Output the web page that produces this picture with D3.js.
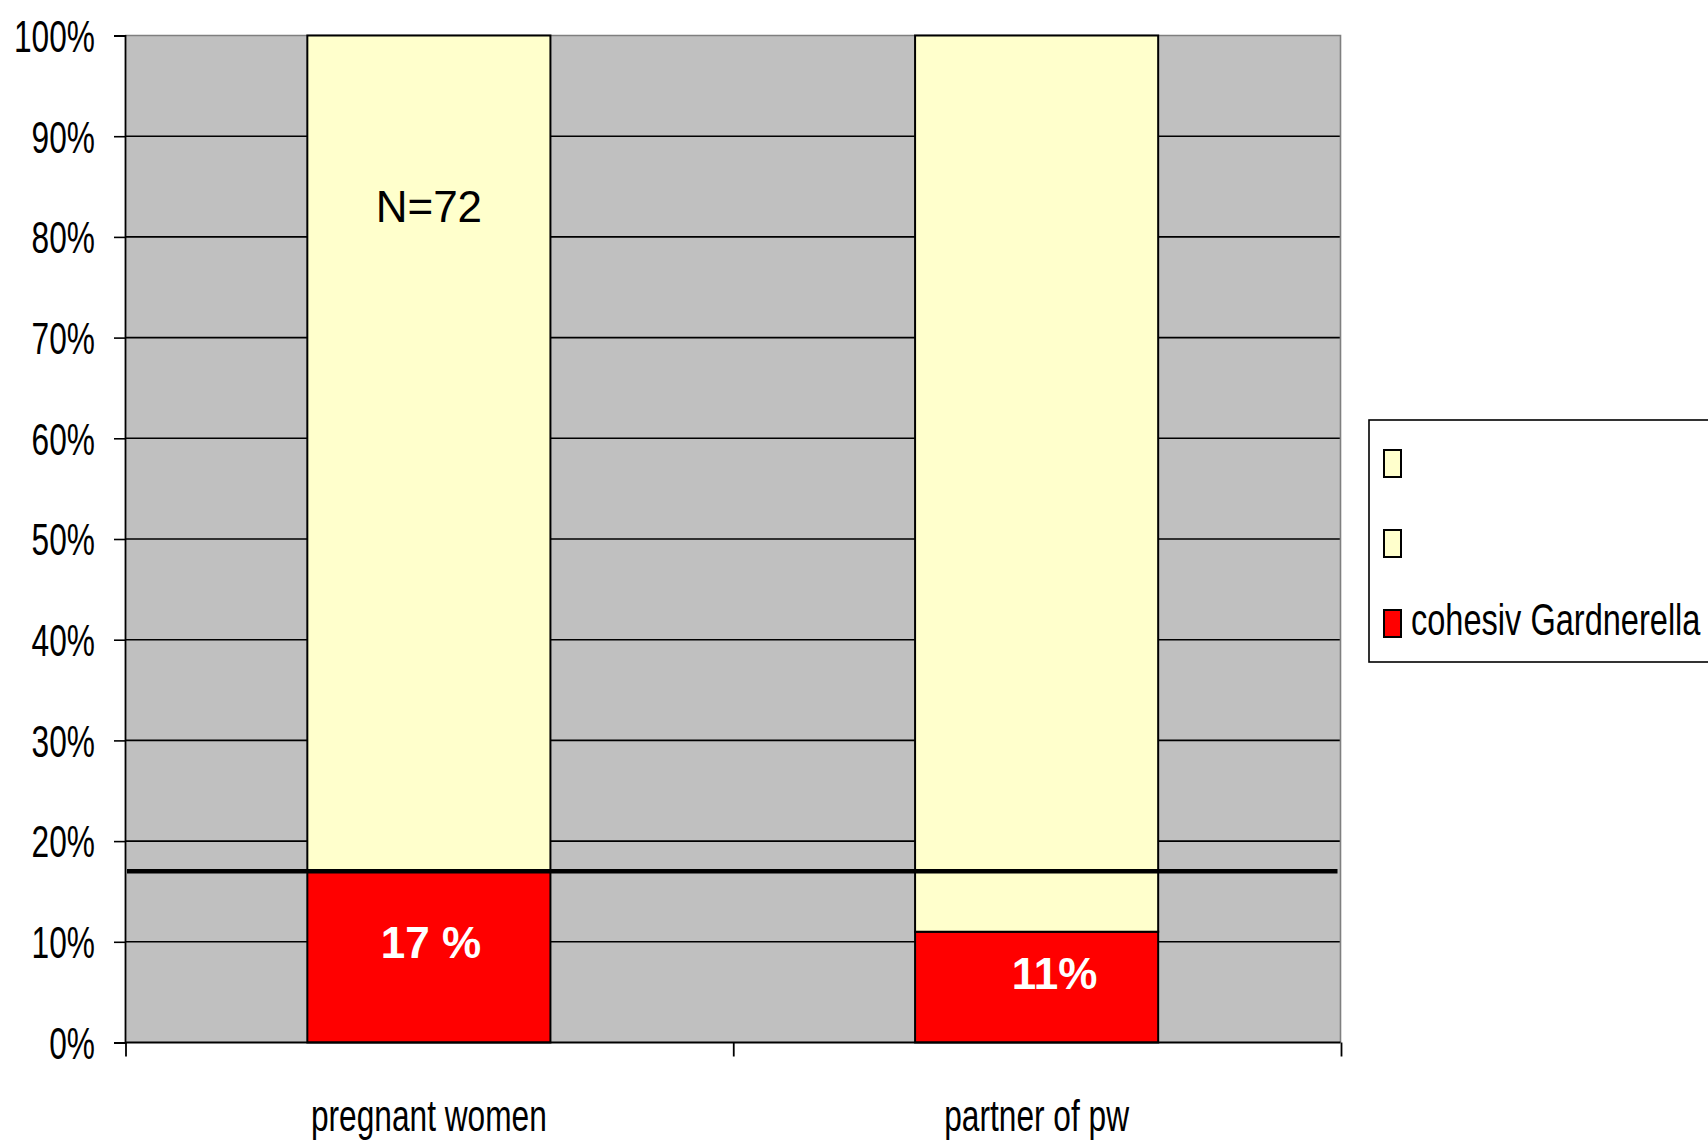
<!DOCTYPE html>
<html>
<head>
<meta charset="utf-8">
<script src="https://cdn.jsdelivr.net/npm/d3@7"></script>
<style>
  html, body { margin: 0; padding: 0; background: #ffffff; }
  svg { display: block; font-family: "Liberation Sans", Arial, sans-serif; }
</style>
</head>
<body>
<svg id="chart" width="1708" height="1142"></svg>
<script>
// Categories and stacked series (percent of each group)
const categories = ["pregnant women", "partner of pw"];
const seriesNames = ["cohesiv Gardnerella", "", ""];
const gardnerella = [17, 11];
const between = [0, 6];
const remainder = [83, 83];
const seriesColors = ["#ff0000", "#ffffcc", "#ffffcc"];
const yTicks = [0, 10, 20, 30, 40, 50, 60, 70, 80, 90, 100];
const referenceLevel = 17;
const valueLabels = ["17 %", "11%"];
const sampleNote = "N=72";

const svg = d3.select("#chart");
const plot = { left: 125, right: 1340.5, top: 35.5, bottom: 1042.5 };

const x = d3.scaleBand()
  .domain(categories)
  .range([plot.left, plot.right])
  .paddingInner(0.6)
  .paddingOuter(0.3);

const y = d3.scaleLinear().domain([0, 100]).range([plot.bottom, plot.top]);

// Plot background
svg.append("rect")
  .attr("x", plot.left).attr("y", plot.top)
  .attr("width", plot.right - plot.left).attr("height", plot.bottom - plot.top)
  .attr("fill", "#c0c0c0");

// Horizontal gridlines
svg.append("g").selectAll("line")
  .data(yTicks.filter(d => d > 0 && d < 100))
  .join("line")
  .attr("x1", plot.left).attr("x2", plot.right)
  .attr("y1", d => y(d)).attr("y2", d => y(d))
  .attr("stroke", "#000").attr("stroke-width", 1.6);

// Plot frame (top and right)
svg.append("path")
  .attr("d", `M${plot.left},${plot.top}H${plot.right}V${plot.bottom}`)
  .attr("fill", "none").attr("stroke", "#7f7f7f").attr("stroke-width", 1.6);

// Stacked bars
const rows = categories.map((c, i) => ({
  cat: c, s0: gardnerella[i], s1: between[i], s2: remainder[i]
}));
const stack = d3.stack().keys(["s0", "s1", "s2"]);
const stacked = stack(rows);

svg.append("g").selectAll("g")
  .data(stacked)
  .join("g")
  .attr("fill", (d, i) => seriesColors[i])
  .selectAll("rect")
  .data(d => d.filter(p => p[1] - p[0] > 0))
  .join("rect")
  .attr("x", d => x(d.data.cat))
  .attr("width", x.bandwidth())
  .attr("y", d => y(d[1]))
  .attr("height", d => y(d[0]) - y(d[1]))
  .attr("stroke", "#000")
  .attr("stroke-width", 2);

// Reference line
svg.append("line")
  .attr("x1", plot.left + 2).attr("x2", plot.right - 3)
  .attr("y1", y(referenceLevel)).attr("y2", y(referenceLevel))
  .attr("stroke", "#000").attr("stroke-width", 4.5);

// Value labels inside red segments
const labelOffsets = [2, 18];
const labelBaselines = [958, 989];
svg.append("g").selectAll("text")
  .data(valueLabels)
  .join("text")
  .attr("x", (d, i) => x(categories[i]) + x.bandwidth() / 2 + labelOffsets[i])
  .attr("y", (d, i) => labelBaselines[i])
  .attr("text-anchor", "middle")
  .attr("font-size", 44)
  .attr("font-weight", "bold")
  .attr("fill", "#ffffff")
  .text(d => d);

// Sample size note
svg.append("text")
  .attr("x", x(categories[0]) + x.bandwidth() / 2)
  .attr("y", 222)
  .attr("text-anchor", "middle")
  .attr("font-size", 44)
  .attr("fill", "#000")
  .text(sampleNote);

// Y axis
const yAxis = svg.append("g")
  .attr("transform", `translate(${plot.left},0)`)
  .call(d3.axisLeft(y).tickValues(yTicks).tickFormat(d => d + "%").tickSize(11).tickPadding(0));
yAxis.select(".domain").attr("stroke", "#000").attr("stroke-width", 1.8);
yAxis.selectAll(".tick line").attr("stroke", "#000").attr("stroke-width", 1.6);
yAxis.selectAll(".tick text")
  .attr("x", 0)
  .attr("dy", "0.36em")
  .attr("font-size", 44)
  .attr("font-family", "'Liberation Sans', Arial, sans-serif")
  .attr("fill", "#000")
  .attr("transform", "translate(-30,0) scale(0.72,1)");

// X axis with ticks at category boundaries
const xAxisG = svg.append("g").attr("transform", `translate(0,${plot.bottom})`);
xAxisG.append("line")
  .attr("x1", plot.left).attr("x2", plot.right)
  .attr("stroke", "#000").attr("stroke-width", 1.8);
const boundaries = [plot.left, ...categories.slice(1).map(c => x(c) - x.step() * x.paddingInner() / 2), plot.right];
xAxisG.selectAll("line.bt")
  .data(boundaries)
  .join("line").attr("class", "bt")
  .attr("x1", d => d + 1).attr("x2", d => d + 1)
  .attr("y1", 0).attr("y2", 14)
  .attr("stroke", "#000").attr("stroke-width", 1.8);
xAxisG.selectAll("g.lbl")
  .data(categories)
  .join("g").attr("class", "lbl")
  .attr("transform", d => `translate(${x(d) + x.bandwidth() / 2},88) scale(0.72,1)`)
  .append("text")
  .attr("text-anchor", "middle")
  .attr("font-size", 44)
  .attr("fill", "#000")
  .text(d => d);

// Legend
const legend = svg.append("g");
legend.append("rect")
  .attr("x", 1369).attr("y", 420)
  .attr("width", 360).attr("height", 242)
  .attr("fill", "#ffffff").attr("stroke", "#000").attr("stroke-width", 1.6);
const legendOrder = [2, 1, 0];
const legendTops = [450, 530, 610];
legend.selectAll("g.item")
  .data(legendOrder)
  .join("g").attr("class", "item")
  .each(function (s, i) {
    const g = d3.select(this);
    g.append("rect")
      .attr("x", 1384).attr("y", legendTops[i])
      .attr("width", 17).attr("height", 27)
      .attr("fill", seriesColors[s]).attr("stroke", "#000").attr("stroke-width", 2);
    g.append("g")
      .attr("transform", `translate(1411,${legendTops[i] + 25}) scale(0.74,1)`)
      .append("text")
      .attr("font-size", 44)
      .attr("fill", "#000")
      .text(seriesNames[s]);
  });
</script>
</body>
</html>
